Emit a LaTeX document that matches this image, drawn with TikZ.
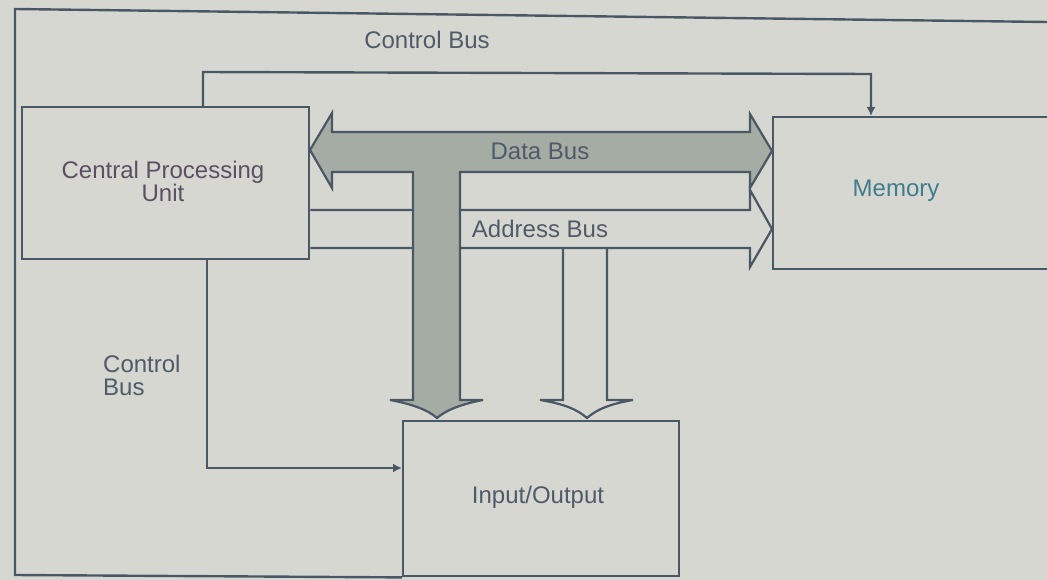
\documentclass[tikz,border=0pt]{standalone}
\usepackage{fontspec}
\setmainfont{Liberation Sans}
\usetikzlibrary{arrows.meta}
\definecolor{bg}{HTML}{D7D7D2}
\definecolor{ln}{HTML}{4A5865}
\definecolor{busfill}{HTML}{A4ACA4}
\definecolor{txt}{HTML}{505A68}
\definecolor{cputxt}{HTML}{5A5064}
\definecolor{memtxt}{HTML}{3F7C8C}
\begin{document}
\begin{tikzpicture}[x=1pt,y=-1pt,
  box/.style={draw=ln, line width=2.4pt, fill=bg, inner sep=0pt},
  wire/.style={draw=ln, line width=2.4pt},
  ctl/.style={wire, -{Latex[length=9pt,width=9pt]}},
  busline/.style={draw=ln, line width=2.2pt, line join=miter},
  lbl/.style={font=\fontsize{24}{23}\selectfont, text=txt, inner sep=0pt}]
\useasboundingbox (0,0) rectangle (1047,580);
\fill[bg] (0,0) rectangle (1047,580);
\clip (0,0) rectangle (1047,580);

% boxes
\node[box, minimum width=287pt, minimum height=152pt, anchor=north west] (cpu) at (21,106) {};
\node[box, minimum width=320pt, minimum height=152pt, anchor=north west] (mem) at (772,116) {};
\node[box, minimum width=276pt, minimum height=155pt, anchor=north west] (io) at (402,420) {};

% outer frame
\coordinate (f0) at (1047,22);
\coordinate (f1) at (15,9);
\coordinate (f2) at (15,575);
\draw[wire] (f0) -- (f1) -- (f2) -- (io.south west);

% address bus (hollow arrow)
\coordinate (aU) at (0,210);
\coordinate (aL) at (0,248);
\draw[busline] (cpu.east |- aU) -- (750,210) -- (750,190) -- (772,229) -- (750,267) -- (750,248) -- (cpu.east |- aL);
\draw[busline] (563,248) -- (563,400) -- (540,400) .. controls (565,404) and (578,410) .. (587,418)
   .. controls (596,410) and (609,404) .. (633,400) -- (607,400) -- (607,248);

% data bus (filled double arrow with branch down)
\filldraw[busline, fill=busfill] (310,150) -- (332,113) -- (332,132) -- (750,132) -- (750,114) -- (772,151)
   -- (750,188) -- (750,172) -- (460,172) -- (460,400) -- (483,400)
   .. controls (462,404) and (446,410) .. (437,418)
   .. controls (428,410) and (412,404) .. (390,400) -- (413,400) -- (413,172) -- (332,172) -- (332,188) -- cycle;

% control bus
\coordinate (cA) at (203,72);
\coordinate (cB) at (871,74);
\coordinate (cC) at (207,468);
\draw[ctl] (cpu.north -| cA) -- (cA) -- (cB) -- (mem.north -| cB);
\draw[ctl] (cpu.south -| cC) -- (cC) -- (io.west |- cC);

% texts
\node[lbl, text=cputxt, align=center] (cputext) at (163,181) {Central Processing\\Unit};
\node[lbl, text=memtxt] (memtext) at (896,191) {Memory};
\node[lbl] (iotext) at (538,497) {Input/Output};
\node[lbl] (cbtop) at (427,40) {Control Bus};
\node[lbl] (dbus) at (540,151) {Data Bus};
\node[lbl] (abus) at (540,229) {Address Bus};
\node[lbl, align=left, anchor=west] (cbleft) at (103,375) {Control\\Bus};
\end{tikzpicture}
\end{document}
